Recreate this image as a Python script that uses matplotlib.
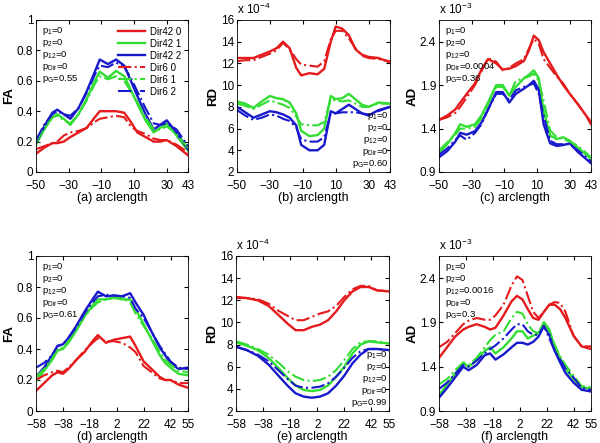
import numpy as np
import matplotlib
matplotlib.use("Agg")
import matplotlib.pyplot as plt

# ---------------- data ----------------
# (a) FA, top row
xa = [-50, -45, -40, -37, -33, -29, -24, -19, -14, -11, -6, -1, 4, 8, 12, 17, 22, 26, 30, 36, 43]
fa_a_d42_0 = [.12, .16, .19, .19, .20, .23, .26, .29, .36, .40, .40, .40, .39, .33, .26, .23, .20, .20, .21, .17, .11]
fa_a_d42_1 = [.18, .28, .36, .38, .35, .31, .38, .48, .60, .66, .62, .665, .63, .54, .45, .34, .26, .29, .32, .24, .14]
fa_a_d42_2 = [.19, .30, .39, .41, .38, .35, .42, .53, .66, .74, .71, .74, .70, .60, .50, .38, .28, .31, .34, .26, .15]
fa_a_d6_0 = [.15, .17, .19, .20, .24, .26, .27, .29, .33, .35, .36, .37, .36, .30, .27, .25, .22, .21, .21, .18, .13]
fa_a_d6_1 = [.20, .29, .36, .37, .34, .32, .38, .47, .58, .63, .61, .63, .60, .53, .46, .36, .28, .28, .30, .25, .16]
fa_a_d6_2 = [.21, .31, .38, .40, .38, .37, .42, .52, .64, .70, .69, .72, .69, .62, .53, .42, .32, .31, .32, .28, .17]

# (b) RD x1e-4
xb = [-50, -45, -40, -35, -30, -26, -22, -18, -14, -11, -6, -1, 3, 7, 10, 14, 18, 22, 26, 30, 36, 43]
rd_b_d42_0 = [12.5, 12.5, 12.5, 12.8, 13.1, 13.4, 14.0, 13.4, 11.6, 10.9, 11.1, 11.0, 11.5, 14.0, 15.4, 15.2, 14.6, 13.3, 12.8, 12.6, 12.5, 12.1]
rd_b_d42_1 = [8.5, 8.3, 7.9, 8.5, 9.0, 8.8, 8.7, 8.4, 7.4, 5.8, 5.3, 5.4, 6.0, 9.0, 8.7, 8.8, 9.2, 8.7, 8.2, 8.0, 8.4, 8.3]
rd_b_d42_2 = [8.0, 7.5, 7.0, 7.3, 7.6, 7.5, 7.3, 7.0, 6.3, 4.5, 4.0, 4.0, 4.5, 7.6, 7.4, 7.8, 8.2, 7.8, 7.4, 7.2, 7.7, 8.0]
rd_b_d6_0 = [12.2, 12.3, 12.3, 12.6, 12.9, 13.2, 13.9, 13.3, 12.4, 11.9, 11.8, 11.7, 12.2, 14.2, 15.0, 15.0, 14.3, 13.4, 12.7, 12.5, 12.4, 12.2]
rd_b_d6_1 = [8.3, 8.1, 7.8, 8.2, 8.6, 8.4, 8.2, 7.9, 7.1, 6.4, 6.3, 6.3, 6.6, 8.7, 8.6, 8.5, 8.6, 8.3, 8.0, 8.0, 8.3, 8.3]
rd_b_d6_2 = [7.7, 7.2, 6.8, 7.0, 7.3, 7.2, 6.9, 6.7, 6.1, 5.0, 4.8, 4.8, 5.2, 7.4, 7.4, 7.5, 7.5, 7.5, 7.4, 7.3, 7.6, 8.0]

# (c) AD x1e-3
xc = [-50, -45, -40, -37, -33, -28, -24, -20, -15, -11, -7, -3, 2, 5, 8, 11, 14, 18, 22, 26, 30, 35, 40, 43]
ad_c_d42_0 = [1.50, 1.55, 1.62, 1.70, 1.80, 1.92, 2.08, 2.20, 2.15, 2.08, 2.09, 2.12, 2.18, 2.30, 2.47, 2.42, 2.28, 2.15, 2.02, 1.90, 1.80, 1.68, 1.55, 1.45]
ad_c_d42_1 = [1.12, 1.22, 1.35, 1.45, 1.42, 1.45, 1.55, 1.70, 1.90, 1.90, 1.78, 1.88, 1.98, 2.02, 2.07, 1.98, 1.60, 1.32, 1.28, 1.30, 1.26, 1.18, 1.10, 1.05]
ad_c_d42_2 = [1.07, 1.14, 1.25, 1.35, 1.33, 1.37, 1.47, 1.62, 1.82, 1.82, 1.70, 1.80, 1.86, 1.90, 1.95, 1.85, 1.45, 1.23, 1.20, 1.21, 1.23, 1.13, 1.05, 1.00]
ad_c_d6_0 = [1.50, 1.53, 1.58, 1.65, 1.76, 1.90, 2.06, 2.21, 2.17, 2.07, 2.10, 2.15, 2.20, 2.32, 2.43, 2.38, 2.20, 2.10, 2.00, 1.92, 1.80, 1.68, 1.55, 1.48]
ad_c_d6_1 = [1.15, 1.24, 1.33, 1.40, 1.40, 1.42, 1.52, 1.68, 1.88, 1.88, 1.78, 1.95, 1.98, 2.00, 2.03, 1.95, 1.72, 1.38, 1.30, 1.28, 1.25, 1.20, 1.12, 1.07]
ad_c_d6_2 = [1.10, 1.17, 1.27, 1.32, 1.27, 1.35, 1.45, 1.62, 1.80, 1.80, 1.73, 1.84, 1.88, 1.90, 1.92, 1.80, 1.55, 1.26, 1.22, 1.22, 1.22, 1.15, 1.07, 1.02]

# (d) FA, bottom row
xd = [-58, -52, -46, -42, -38, -34, -28, -22, -16, -12, -6, 0, 6, 12, 16, 22, 28, 34, 38, 42, 48, 55]
fa_d_d42_0 = [.13, .18, .23, .25, .24, .27, .33, .38, .45, .49, .44, .46, .47, .48, .42, .32, .27, .22, .20, .20, .17, .15]
fa_d_d42_1 = [.19, .26, .33, .39, .40, .44, .52, .61, .68, .72, .72, .73, .72, .72, .66, .56, .46, .36, .31, .28, .24, .23]
fa_d_d42_2 = [.22, .28, .36, .42, .43, .47, .55, .64, .72, .77, .74, .745, .74, .76, .70, .62, .51, .41, .36, .31, .27, .28]
fa_d_d6_0 = [.20, .23, .25, .26, .25, .28, .33, .39, .44, .47, .45, .45, .44, .41, .38, .29, .25, .21, .20, .20, .18, .18]
fa_d_d6_1 = [.22, .27, .34, .40, .41, .45, .52, .61, .67, .70, .72, .73, .73, .70, .63, .55, .47, .38, .33, .30, .26, .25]
fa_d_d6_2 = [.28, .31, .36, .42, .43, .47, .54, .63, .70, .74, .75, .745, .74, .73, .66, .60, .51, .42, .37, .32, .28, .27]

# (e) RD x1e-4
xe = [-58, -50, -42, -34, -26, -20, -14, -8, -2, 4, 10, 16, 22, 28, 34, 40, 46, 55]
rd_e_d42_0 = [12.3, 12.2, 12.0, 11.5, 10.6, 9.9, 9.3, 9.3, 9.6, 9.8, 10.2, 11.0, 12.0, 12.8, 13.2, 13.2, 12.9, 12.8]
rd_e_d42_1 = [8.2, 7.9, 7.5, 6.8, 5.8, 5.0, 4.3, 3.9, 3.8, 3.9, 4.3, 5.1, 6.0, 7.2, 8.0, 8.3, 8.2, 8.1]
rd_e_d42_2 = [7.8, 7.5, 7.0, 6.2, 5.1, 4.3, 3.6, 3.3, 3.2, 3.3, 3.6, 4.3, 5.2, 6.3, 7.1, 7.6, 7.6, 7.5]
rd_e_d6_0 = [12.2, 12.2, 12.1, 11.7, 11.0, 10.6, 10.2, 10.2, 10.5, 10.8, 11.0, 11.5, 12.3, 13.0, 13.3, 13.3, 12.9, 12.8]
rd_e_d6_1 = [8.3, 8.0, 7.6, 7.1, 6.3, 5.6, 5.1, 4.8, 4.7, 4.8, 5.1, 5.7, 6.6, 7.6, 8.2, 8.3, 8.3, 8.1]
rd_e_d6_2 = [7.8, 7.5, 7.1, 6.5, 5.6, 4.9, 4.3, 4.1, 4.1, 4.2, 4.5, 5.1, 5.9, 6.8, 7.4, 7.6, 7.6, 7.5]

# (f) AD x1e-3
xf = [-58, -52, -46, -40, -36, -30, -24, -20, -16, -10, -4, 0, 4, 8, 12, 16, 20, 24, 28, 32, 36, 42, 48, 55]
ad_f_d42_0 = [1.50, 1.62, 1.74, 1.82, 1.85, 1.88, 1.85, 1.82, 1.84, 1.98, 2.14, 2.20, 2.16, 2.05, 1.95, 1.93, 2.02, 2.10, 2.10, 2.05, 1.95, 1.75, 1.63, 1.60]
ad_f_d42_1 = [1.08, 1.20, 1.32, 1.44, 1.40, 1.47, 1.58, 1.62, 1.55, 1.62, 1.72, 1.80, 1.80, 1.72, 1.75, 1.78, 1.90, 1.82, 1.62, 1.50, 1.38, 1.26, 1.17, 1.15]
ad_f_d42_2 = [1.05, 1.16, 1.28, 1.40, 1.36, 1.42, 1.53, 1.55, 1.48, 1.54, 1.62, 1.67, 1.67, 1.65, 1.68, 1.74, 1.86, 1.76, 1.58, 1.45, 1.33, 1.22, 1.14, 1.12]
ad_f_d6_0 = [1.62, 1.68, 1.78, 1.88, 1.92, 1.95, 1.93, 1.93, 1.98, 2.10, 2.32, 2.42, 2.38, 2.20, 2.02, 1.95, 2.02, 2.10, 2.13, 2.12, 2.02, 1.75, 1.63, 1.63]
ad_f_d6_1 = [1.20, 1.26, 1.36, 1.45, 1.42, 1.50, 1.62, 1.70, 1.76, 1.80, 1.95, 2.02, 2.00, 1.88, 1.80, 1.78, 1.90, 1.80, 1.65, 1.52, 1.42, 1.30, 1.18, 1.17]
ad_f_d6_2 = [1.15, 1.22, 1.32, 1.42, 1.40, 1.47, 1.55, 1.60, 1.64, 1.72, 1.82, 1.88, 1.88, 1.80, 1.76, 1.76, 1.86, 1.72, 1.58, 1.48, 1.38, 1.28, 1.16, 1.14]

series_labels = ["Dir42 0", "Dir42 1", "Dir42 2", "Dir6 0", "Dir6 1", "Dir6 2"]
xticks_top = [-50, -30, -10, 10, 30, 43]
xticks_bot = [-58, -38, -18, 2, 22, 42, 55]

ann_a = ["0", "0", "0", "0", "0.55"]
ann_b = ["0", "0", "0", "0", "0.60"]
ann_c = ["0", "0", "0", "0.0004", "0.36"]
ann_d = ["0", "0", "0", "0", "0.61"]
ann_e = ["0", "0", "0", "0", "0.99"]
ann_f = ["0", "0", "0.0016", "0", "0.3"]

RED, GREEN, BLUE = "#e41a1c", "#33dd33", "#1919cc"
colors = [RED, GREEN, BLUE, RED, GREEN, BLUE]
styles = ["-", "-", "-", "-.", "-.", "-."]

plt.rcParams["font.family"] = ["Liberation Sans", "DejaVu Sans"]
plt.rcParams["mathtext.fontset"] = "custom"
plt.rcParams["mathtext.rm"] = "Liberation Sans"
plt.rcParams["mathtext.it"] = "Liberation Sans:italic"

fig = plt.figure(figsize=(6.0, 4.43), dpi=100)

W, H = 600.0, 443.0
def pos(l, r, t, b):
    return [l / W, 1 - b / H, (r - l) / W, (b - t) / H]

panels = [
    dict(p=pos(36, 188, 20, 172), x=xa, ys=[fa_a_d42_0, fa_a_d42_1, fa_a_d42_2, fa_a_d6_0, fa_a_d6_1, fa_a_d6_2],
         xl="(a) arclength", yl="FA", xt=xticks_top, yt=[0, 0.2, 0.4, 0.6, 0.8, 1], ylim=(0, 1),
         ytl=["0", "0.2", "0.4", "0.6", "0.8", "1"], ann=ann_a, apos="ul", off=None),
    dict(p=pos(237, 390, 20, 172), x=xb, ys=[rd_b_d42_0, rd_b_d42_1, rd_b_d42_2, rd_b_d6_0, rd_b_d6_1, rd_b_d6_2],
         xl="(b) arclength", yl="RD", xt=xticks_top, yt=list(range(2, 17, 2)), ylim=(2, 16),
         ytl=[str(v) for v in range(2, 17, 2)], ann=ann_b, apos="lr", off="-4"),
    dict(p=pos(439, 591, 20, 172), x=xc, ys=[ad_c_d42_0, ad_c_d42_1, ad_c_d42_2, ad_c_d6_0, ad_c_d6_1, ad_c_d6_2],
         xl="(c) arclength", yl="AD", xt=xticks_top, yt=[0.9, 1.4, 1.9, 2.4], ylim=(0.9, 2.65),
         ytl=["0.9", "1.4", "1.9", "2.4"], ann=ann_c, apos="ul", off="-3"),
    dict(p=pos(36, 188, 256, 411), x=xd, ys=[fa_d_d42_0, fa_d_d42_1, fa_d_d42_2, fa_d_d6_0, fa_d_d6_1, fa_d_d6_2],
         xl="(d) arclength", yl="FA", xt=xticks_bot, yt=[0, 0.2, 0.4, 0.6, 0.8, 1], ylim=(0, 1),
         ytl=["0", "0.2", "0.4", "0.6", "0.8", "1"], ann=ann_d, apos="ul", off=None),
    dict(p=pos(236, 389, 256, 411), x=xe, ys=[rd_e_d42_0, rd_e_d42_1, rd_e_d42_2, rd_e_d6_0, rd_e_d6_1, rd_e_d6_2],
         xl="(e) arclength", yl="RD", xt=xticks_bot, yt=list(range(2, 17, 2)), ylim=(2, 16),
         ytl=[str(v) for v in range(2, 17, 2)], ann=ann_e, apos="lr", off="-4"),
    dict(p=pos(439, 591, 256, 411), x=xf, ys=[ad_f_d42_0, ad_f_d42_1, ad_f_d42_2, ad_f_d6_0, ad_f_d6_1, ad_f_d6_2],
         xl="(f) arclength", yl="AD", xt=xticks_bot, yt=[0.9, 1.4, 1.9, 2.4], ylim=(0.9, 2.65),
         ytl=["0.9", "1.4", "1.9", "2.4"], ann=ann_f, apos="ul", off="-3"),
]

names = ["1", "2", "12", "Dir", "G"]

for k, pn in enumerate(panels):
    ax = fig.add_axes(pn["p"])
    for i, y in enumerate(pn["ys"]):
        ax.plot(pn["x"], y, color=colors[i], linestyle=styles[i],
                linewidth=1.7 if styles[i] == "-" else 1.5, label=series_labels[i])
    ax.set_xlim(pn["xt"][0], pn["xt"][-1])
    ax.set_ylim(*pn["ylim"])
    ax.set_xticks(pn["xt"])
    ax.set_xticklabels([str(v).replace("-", "\u2212") for v in pn["xt"]])
    ax.set_yticks(pn["yt"])
    ax.set_yticklabels(pn["ytl"])
    ax.tick_params(direction="in", top=True, right=True, labelsize=8.5, length=3)
    ax.tick_params(axis="x", pad=5.5)
    ax.tick_params(axis="y", pad=2)
    ax.set_xlabel(pn["xl"], fontsize=9, labelpad=0)
    ax.set_ylabel(pn["yl"], fontsize=9.5, fontweight="bold", labelpad=1)
    for s in ax.spines.values():
        s.set_linewidth(0.6)
    if pn["off"]:
        ax.text(0.0, 1.02, r"x 10$^{%s}$" % pn["off"], transform=ax.transAxes,
                fontsize=8.5, ha="left", va="bottom")
    txt = "\n".join(r"p$_{\mathrm{%s}}$=%s" % (n, v) for n, v in zip(names, pn["ann"]))
    if pn["apos"] == "ul":
        ax.text(0.04, 0.97, txt, transform=ax.transAxes, fontsize=6.8, ha="left", va="top",
                linespacing=1.0)
    else:
        ax.text(0.99, 0.01, txt, transform=ax.transAxes, fontsize=6.8, ha="right", va="bottom",
                linespacing=1.0)
    if k == 0:
        ax.legend(loc="upper right", fontsize=7, frameon=False, handlelength=2.8,
                  labelspacing=0.2, borderaxespad=0.3, handletextpad=0.5)

fig.savefig("out.png", dpi=100)
